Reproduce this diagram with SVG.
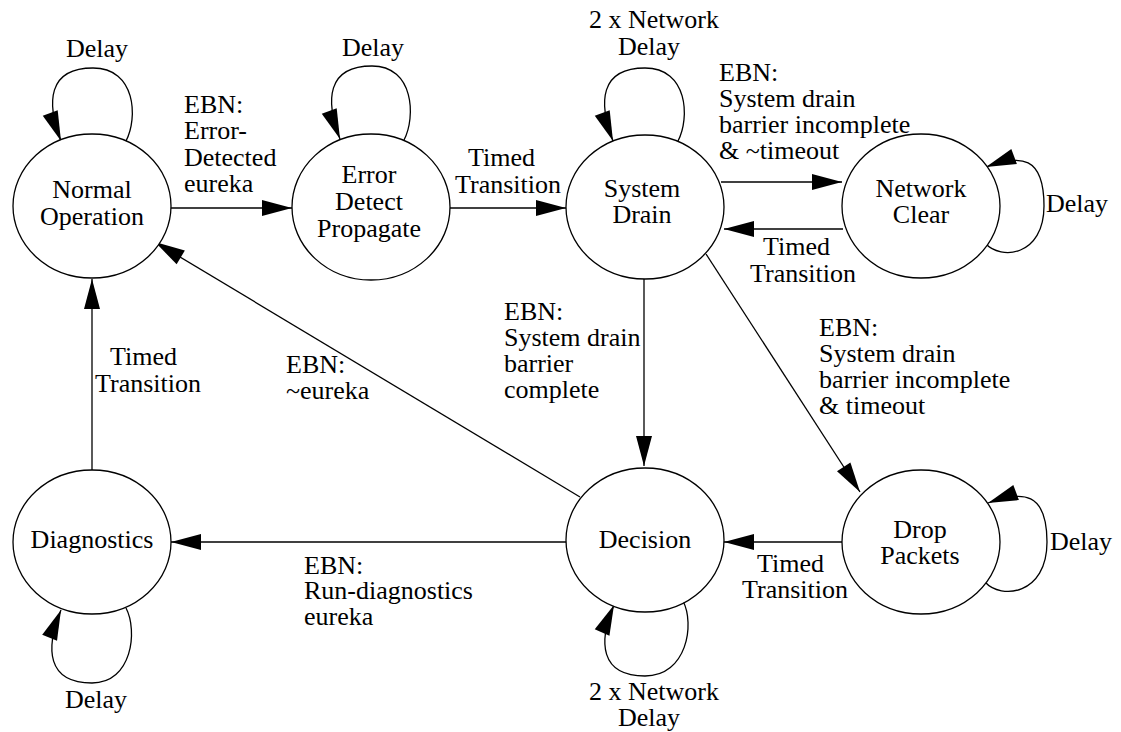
<svg xmlns="http://www.w3.org/2000/svg" width="1121" height="732" viewBox="0 0 1121 732" font-family="'Liberation Serif', Tinos, 'Times New Roman', 'DejaVu Serif', serif">
<style>
.n{fill:#fff;stroke:#000;stroke-width:1.3}
.e{fill:none;stroke:#000;stroke-width:1.3;marker-end:url(#ah)}
text{font-family:'Liberation Serif',Tinos,'Times New Roman','DejaVu Serif',serif;font-size:26px;fill:#000}
.c{text-anchor:middle}
</style>
<defs>
<marker id="ah" markerUnits="userSpaceOnUse" markerWidth="30" markerHeight="16" refX="30" refY="8" orient="auto" overflow="visible">
<path d="M0,0 L30,8 L0,16 z" fill="#000"/>
</marker>
</defs>
<rect width="1121" height="732" fill="#fff"/>
<g id="connectors">
<path class="e" d="M171,208 L292,208"/>
<path class="e" d="M450,208 L566,208"/>
<path class="e" d="M721,182 L842,182"/>
<path class="e" d="M843,229 L724,229"/>
<path class="e" d="M644,279 L644,466"/>
<path class="e" d="M706,254 L860,492"/>
<path class="e" d="M842,542 L724,542"/>
<path class="e" d="M566,542 L171,542"/>
<path class="e" d="M580,497 L155,242"/>
<path class="e" d="M92,470 L92,279"/>
<path class="e" d="M126,141 C138,118 136,68 93,68 C48,68 46,102 61,141"/>
<path class="e" d="M404,140 C416,117 414,66 372,66 C327,66 325,100 340,139"/>
<path class="e" d="M678,141 C690,118 688,68 645,68 C600,68 598,102 613,141"/>
<path class="e" d="M985,243 C1001,261 1044,256 1044,206 C1044,156 1021,154 986,167"/>
<path class="e" d="M985,582 C1001,600 1047,595 1047,542 C1047,492 1023,490 988,503"/>
<path class="e" d="M683,601 C695,624 687,676 645,676 C600,676 598,642 614,605"/>
<path class="e" d="M126,608 C138,631 132,683 92,683 C47,683 45,649 61,610"/>
<text x="66" y="57">Delay</text>
<text x="184" y="113">EBN:</text>
<text x="184" y="139">Error-</text>
<text x="184" y="166">Detected</text>
<text x="184" y="192">eureka</text>
<text x="342" y="56">Delay</text>
<text x="468" y="166">Timed</text>
<text x="455" y="193">Transition</text>
<text x="589" y="28">2 x Network</text>
<text x="618" y="55">Delay</text>
<text x="719" y="81">EBN:</text>
<text x="719" y="107">System drain</text>
<text x="719" y="133">barrier incomplete</text>
<text x="719" y="159">&amp; ~timeout</text>
<text x="763" y="255">Timed</text>
<text x="750" y="282">Transition</text>
<text x="1046" y="212">Delay</text>
<text x="504" y="320">EBN:</text>
<text x="504" y="346">System drain</text>
<text x="504" y="372">barrier</text>
<text x="504" y="398">complete</text>
<text x="819" y="336">EBN:</text>
<text x="819" y="362">System drain</text>
<text x="819" y="388">barrier incomplete</text>
<text x="819" y="414">&amp; timeout</text>
<text x="286" y="373">EBN:</text>
<text x="286" y="399">~eureka</text>
<text x="110" y="365">Timed</text>
<text x="95" y="392">Transition</text>
<text x="589" y="700">2 x Network</text>
<text x="618" y="726">Delay</text>
<text x="757" y="572">Timed</text>
<text x="742" y="598">Transition</text>
<text x="1050" y="550">Delay</text>
<text x="304" y="574">EBN:</text>
<text x="304" y="599">Run-diagnostics</text>
<text x="304" y="625">eureka</text>
<text x="65" y="708">Delay</text>
</g>
<g id="normal-operation">
<ellipse class="n" cx="92" cy="206" rx="79" ry="72"/>
<text class="c" x="92" y="198">Normal</text>
<text class="c" x="92" y="225">Operation</text>
</g>
<g id="error-detect-propagate">
<ellipse class="n" cx="371" cy="207" rx="79" ry="73"/>
<text class="c" x="369" y="183">Error</text>
<text class="c" x="369" y="210">Detect</text>
<text class="c" x="369" y="237">Propagate</text>
</g>
<g id="system-drain">
<ellipse class="n" cx="645" cy="207" rx="79" ry="72"/>
<text class="c" x="642" y="197">System</text>
<text class="c" x="642" y="223">Drain</text>
</g>
<g id="network-clear">
<ellipse class="n" cx="921" cy="206" rx="79" ry="72"/>
<text class="c" x="921" y="197">Network</text>
<text class="c" x="921" y="223">Clear</text>
</g>
<g id="decision">
<ellipse class="n" cx="645" cy="540" rx="79" ry="72"/>
<text class="c" x="645" y="548">Decision</text>
</g>
<g id="drop-packets">
<ellipse class="n" cx="921" cy="542" rx="79" ry="72"/>
<text class="c" x="920" y="538">Drop</text>
<text class="c" x="920" y="564">Packets</text>
</g>
<g id="diagnostics">
<ellipse class="n" cx="92" cy="542" rx="79" ry="72"/>
<text class="c" x="92" y="548">Diagnostics</text>
</g>
</svg>
